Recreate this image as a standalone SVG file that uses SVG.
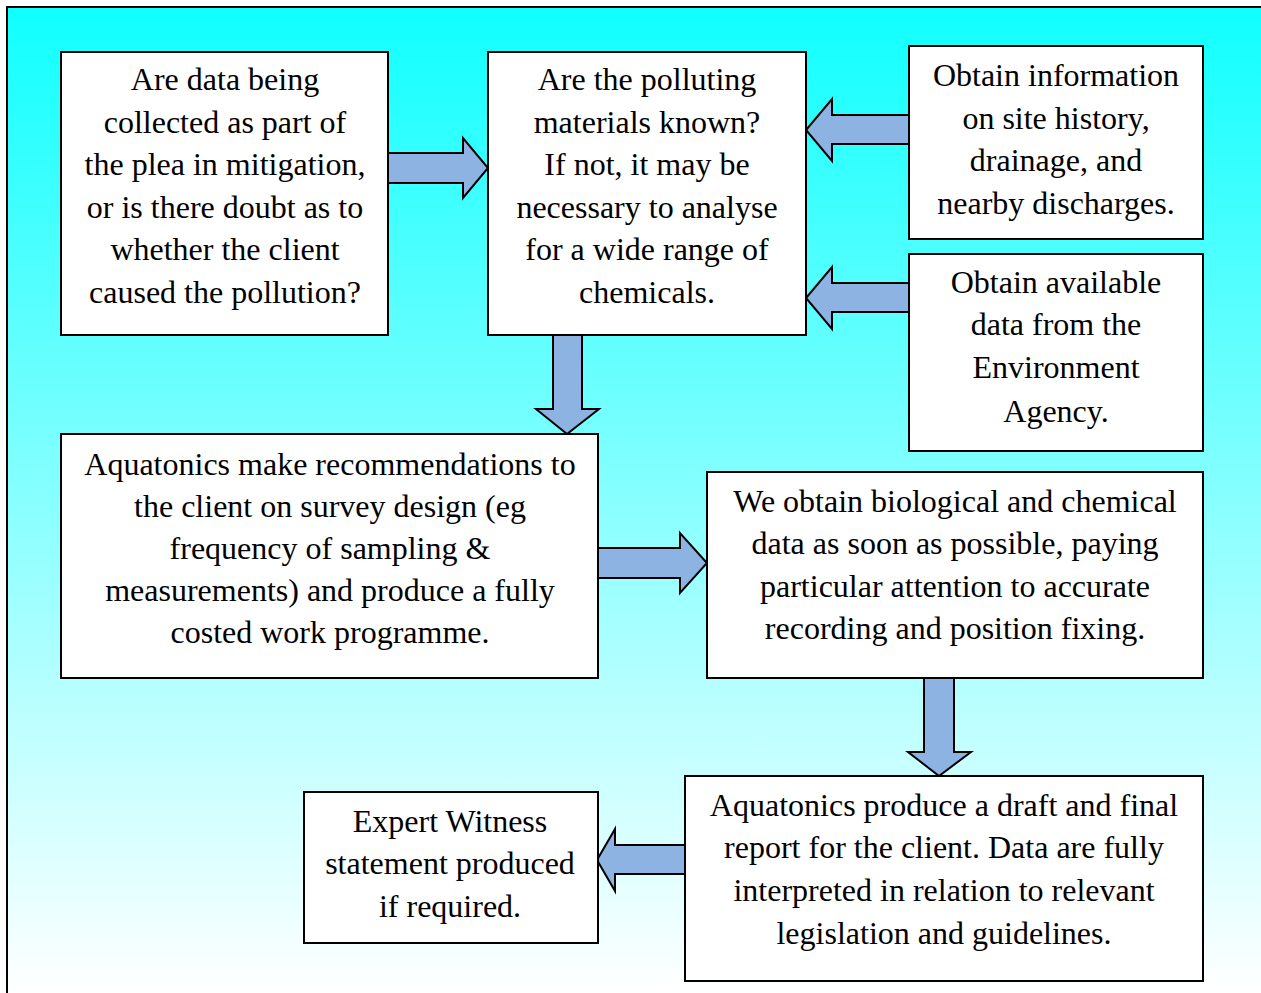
<svg xmlns="http://www.w3.org/2000/svg" width="1261" height="993" viewBox="0 0 1261 993">
<defs>
<linearGradient id="bg" gradientUnits="userSpaceOnUse" x1="0" y1="6" x2="0" y2="990">
<stop offset="0" stop-color="#10FFFF"/>
<stop offset="1" stop-color="#FFFFFF"/>
</linearGradient>
<style>
.box{fill:#FFFFFF;stroke:#000000;stroke-width:2}
.arr{fill:#8DB3E2;stroke:#000000;stroke-width:2;stroke-linejoin:miter}
text{font-family:"Liberation Serif","Times New Roman",serif;font-size:32px;fill:#000000;text-anchor:middle}
</style>
</defs>
<rect width="1261" height="993" fill="#FFFFFF"/>
<rect x="7" y="7" width="1262" height="1000" fill="url(#bg)" stroke="#000000" stroke-width="2"/>
<g id="connectors">
<polygon class="arr" points="388,153 463,153 463,138 488,168 463,198 463,183 388,183"/>
<polygon class="arr" points="553,335 582,335 582,409 599,409 567,434 536,409 553,409"/>
<polygon class="arr" points="909,115 832,115 832,99 806,130 832,161 832,144 909,144"/>
<polygon class="arr" points="909,283 832,283 832,267 806,298 832,329 832,312 909,312"/>
<polygon class="arr" points="598,548 680,548 680,533 707,563 680,593 680,578 598,578"/>
<polygon class="arr" points="924,678 954,678 954,752 971,752 939,776 908,752 924,752"/>
<polygon class="arr" points="685,845 615,845 615,829 597,860 615,891 615,874 685,874"/>
</g>
<g id="nodeA">
<rect class="box" x="61" y="52" width="327" height="283"/>
<text x="225" y="90">Are data being</text>
<text x="225" y="133">collected as part of</text>
<text x="225" y="175">the plea in mitigation,</text>
<text x="225" y="218">or is there doubt as to</text>
<text x="225" y="260">whether the client</text>
<text x="225" y="303">caused the pollution?</text>
</g>
<g id="nodeB">
<rect class="box" x="488" y="52" width="318" height="283"/>
<text x="647" y="90">Are the polluting</text>
<text x="647" y="133">materials known?</text>
<text x="647" y="175">If not, it may be</text>
<text x="647" y="218">necessary to analyse</text>
<text x="647" y="260">for a wide range of</text>
<text x="647" y="303">chemicals.</text>
</g>
<g id="nodeC">
<rect class="box" x="909" y="46" width="294" height="193"/>
<text x="1056" y="86">Obtain information</text>
<text x="1056" y="129">on site history,</text>
<text x="1056" y="171">drainage, and</text>
<text x="1056" y="214">nearby discharges.</text>
</g>
<g id="nodeD">
<rect class="box" x="909" y="254" width="294" height="197"/>
<text x="1056" y="293">Obtain available</text>
<text x="1056" y="335">data from the</text>
<text x="1056" y="378">Environment</text>
<text x="1056" y="422">Agency.</text>
</g>
<g id="nodeE">
<rect class="box" x="61" y="434" width="537" height="244"/>
<text x="330" y="475">Aquatonics make recommendations to</text>
<text x="330" y="517">the client on survey design (eg</text>
<text x="330" y="559">frequency of sampling &amp;</text>
<text x="330" y="601">measurements) and produce a fully</text>
<text x="330" y="643">costed work programme.</text>
</g>
<g id="nodeF">
<rect class="box" x="707" y="472" width="496" height="206"/>
<text x="955" y="512">We obtain biological and chemical</text>
<text x="955" y="554">data as soon as possible, paying</text>
<text x="955" y="597">particular attention to accurate</text>
<text x="955" y="639">recording and position fixing.</text>
</g>
<g id="nodeG">
<rect class="box" x="304" y="792" width="294" height="151"/>
<text x="450" y="832">Expert Witness</text>
<text x="450" y="874">statement produced</text>
<text x="450" y="917">if required.</text>
</g>
<g id="nodeH">
<rect class="box" x="685" y="776" width="518" height="205"/>
<text x="944" y="816">Aquatonics produce a draft and final</text>
<text x="944" y="858">report for the client. Data are fully</text>
<text x="944" y="901">interpreted in relation to relevant</text>
<text x="944" y="944">legislation and guidelines.</text>
</g>
</svg>
